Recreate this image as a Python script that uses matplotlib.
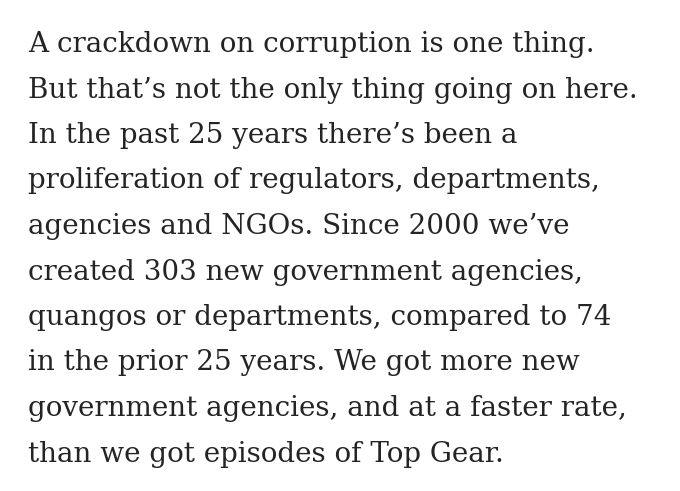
import matplotlib
matplotlib.use("Agg")
import matplotlib.pyplot as plt

lines = [
    "A crackdown on corruption is one thing.",
    "But that\u2019s not the only thing going on here.",
    "In the past 25 years there\u2019s been a",
    "proliferation of regulators, departments,",
    "agencies and NGOs. Since 2000 we\u2019ve",
    "created 303 new government agencies,",
    "quangos or departments, compared to 74",
    "in the prior 25 years. We got more new",
    "government agencies, and at a faster rate,",
    "than we got episodes of Top Gear.",
]

W, H = 680, 491
fig = plt.figure(figsize=(W / 100, H / 100), dpi=100)
fig.patch.set_facecolor("white")

x0 = 28
first_baseline = 52
step = 45.5
for i, t in enumerate(lines):
    y = first_baseline + i * step
    fig.text(x0 / W, 1 - y / H, t, ha="left", va="baseline",
             fontsize=20, family="DejaVu Serif", color="#242424")

fig.savefig("out.png", dpi=100, facecolor="white")
